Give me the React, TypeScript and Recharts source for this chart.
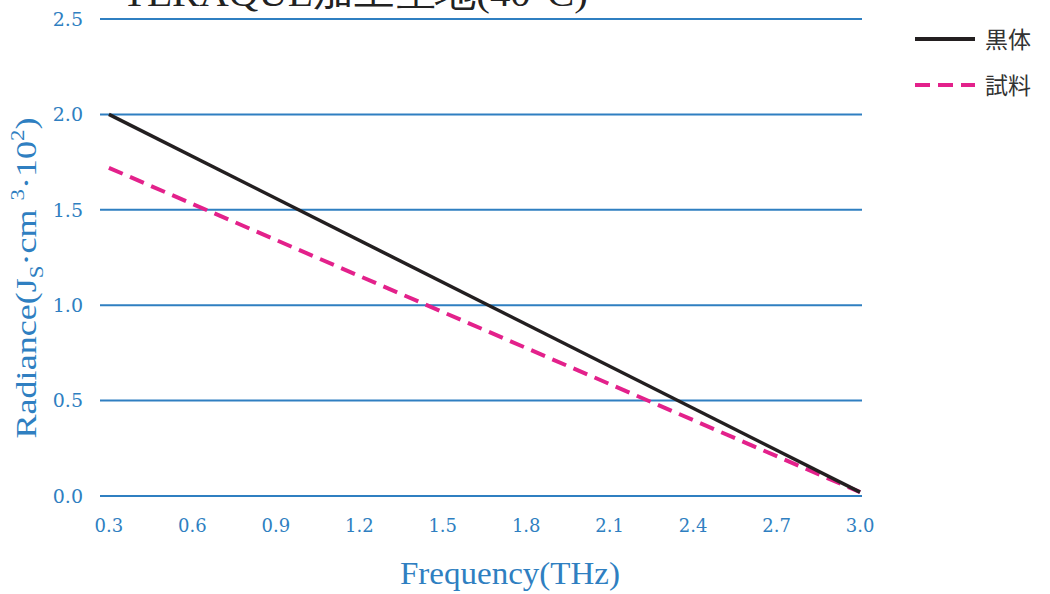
import React from "react";
import { LineChart, Line, XAxis, YAxis, CartesianGrid, Customized } from "recharts";

const frequency = [0.3, 3.0];
const blackbody = [2.0, 0.02];
const sample = [1.72, 0.02];
const xTicks = [0.3, 0.6, 0.9, 1.2, 1.5, 1.8, 2.1, 2.4, 2.7, 3.0];
const yTicks = [0, 0.5, 1.0, 1.5, 2.0, 2.5];
const legendLabels = ["黒体", "試料"];

const data = frequency.map((f, i) => ({ f, black: blackbody[i], sample: sample[i] }));

const BLUE = "#2f7fc1";
const PINK = "#e3218b";
const SERIF = "'Liberation Serif', 'DejaVu Serif', serif";
const TICKFONT = "'DejaVu Serif', serif";
const CJK = "'Noto Sans CJK JP', sans-serif";

const YLabel = () => (
  <text
    transform="translate(36, 278) rotate(-90)"
    textAnchor="middle"
    fill={BLUE}
    fontFamily={SERIF}
    fontSize={30}
    textLength={321}
    lengthAdjust="spacingAndGlyphs"
  >
    <tspan>Radiance(J</tspan>
    <tspan fontSize={19} dy={7}>S</tspan>
    <tspan dy={-7}>·cm </tspan>
    <tspan fontSize={19} dy={-12}>3</tspan>
    <tspan dy={12}>·10</tspan>
    <tspan fontSize={19} dy={-12}>2</tspan>
    <tspan dy={12}>)</tspan>
  </text>
);

const Extras = () => (
  <g>
    <text
      x={122}
      y={6}
      fill="#222"
      fontFamily={SERIF}
      fontSize={36}
      textLength={466}
      lengthAdjust="spacingAndGlyphs"
    >
      TERAQUE加工生地(40°C)
    </text>
    <YLabel />
    <text
      x={510}
      y={584}
      textAnchor="middle"
      fill={BLUE}
      fontFamily={SERIF}
      fontSize={31}
      textLength={220}
      lengthAdjust="spacingAndGlyphs"
    >
      Frequency(THz)
    </text>
    <line x1={915} y1={39} x2={975} y2={39} stroke="#231f20" strokeWidth={4} />
    <text x={985} y={48} fill="#333" fontFamily={CJK} fontSize={23}>{legendLabels[0]}</text>
    <line x1={915} y1={85} x2={975} y2={85} stroke={PINK} strokeWidth={4} strokeDasharray="15 8" />
    <text x={985} y={94} fill="#333" fontFamily={CJK} fontSize={23}>{legendLabels[1]}</text>
  </g>
);

export default function App() {
  return (
    <div style={{ position: "absolute", left: 0, top: 0, background: "#fff" }}>
      <LineChart
        width={1050}
        height={594}
        data={data}
        margin={{ top: 19, right: 188, bottom: 68, left: 40 }}
      >
        <CartesianGrid vertical={false} stroke={BLUE} strokeWidth={2} />
        <XAxis
          dataKey="f"
          type="number"
          domain={[0.268, 3.007]}
          ticks={xTicks}
          tickFormatter={(v: number) => v.toFixed(1)}
          axisLine={false}
          tickLine={false}
          height={30}
          tick={{ fill: BLUE, fontFamily: TICKFONT, fontSize: 18 }}
          tickMargin={17}
          interval={0}
        />
        <YAxis
          type="number"
          domain={[0, 2.5]}
          ticks={yTicks}
          tickFormatter={(v: number) => v.toFixed(1)}
          axisLine={false}
          tickLine={false}
          width={60}
          tick={{ fill: BLUE, fontFamily: TICKFONT, fontSize: 19 }}
          tickMargin={11}
        />
        <Line
          dataKey="sample"
          stroke={PINK}
          strokeWidth={4}
          strokeDasharray="15 8"
          dot={false}
          isAnimationActive={false}
        />
        <Line
          dataKey="black"
          stroke="#231f20"
          strokeWidth={3.5}
          dot={false}
          isAnimationActive={false}
        />
        <Customized component={Extras} />
      </LineChart>
    </div>
  );
}
